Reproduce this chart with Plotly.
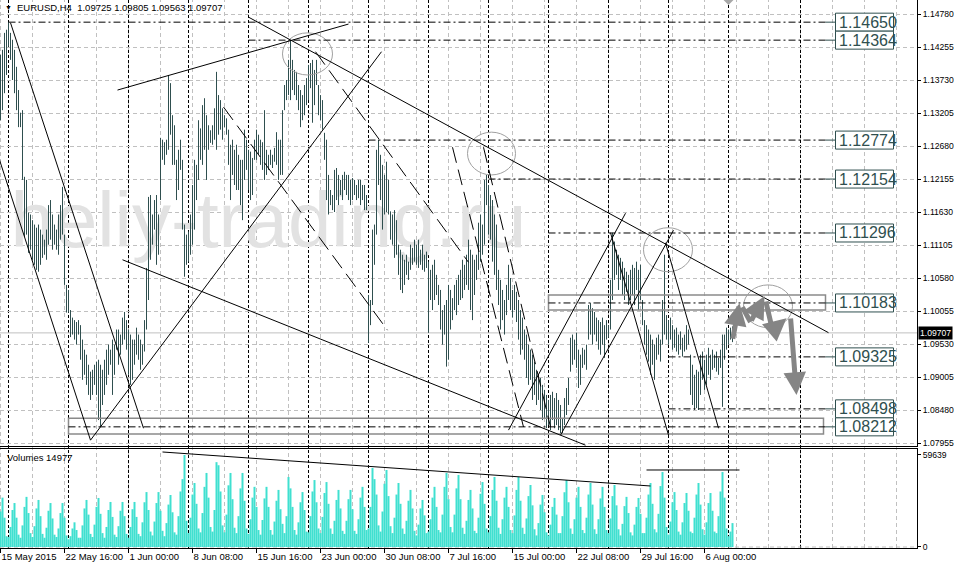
import plotly.graph_objects as go

# ---------------- data ----------------
header_text = "EURUSD,H4&nbsp; 1.09725 1.09805 1.09563 1.09707"
volume_title = "Volumes 14977"
watermark_text = "heliy-trading.ru"

high = [
    1.1413, 1.1421, 1.1448, 1.1453, 1.1465, 1.1448, 1.1437, 1.1421, 1.1394, 1.1357,
    1.1321, 1.1325, 1.1219, 1.1214, 1.1162, 1.1159, 1.1150, 1.1143, 1.1138, 1.1143,
    1.1135, 1.1127, 1.1119, 1.1135, 1.1174, 1.1182, 1.1159, 1.1143, 1.1135, 1.1159,
    1.1174, 1.1203, 1.1127, 1.1047, 1.1039, 1.1007, 1.0995, 1.0991, 1.0988, 1.0991,
    1.0983, 1.0960, 1.0944, 1.0936, 1.0920, 1.0909, 1.0912, 1.0920, 1.0925, 1.0928,
    1.0920, 1.0912, 1.0928, 1.0944, 1.0952, 1.0944, 1.0960, 1.0952, 1.0976, 1.0976,
    1.0968, 1.0995, 1.1004, 1.0991, 1.0976, 1.0968, 1.0960, 1.0960, 1.0979, 1.0968,
    1.0960, 1.0952, 1.0991, 1.1074, 1.1187, 1.1190, 1.1159, 1.1182, 1.1190, 1.1159,
    1.1281, 1.1278, 1.1274, 1.1278, 1.1381, 1.1368, 1.1317, 1.1301, 1.1246, 1.1262,
    1.1278, 1.1246, 1.1143, 1.1127, 1.1132, 1.1159, 1.1206, 1.1246, 1.1238, 1.1309,
    1.1296, 1.1333, 1.1344, 1.1317, 1.1301, 1.1293, 1.1301, 1.1328, 1.1386, 1.1349,
    1.1341, 1.1328, 1.1317, 1.1312, 1.1294, 1.1270, 1.1278, 1.1262, 1.1270, 1.1254,
    1.1246, 1.1246, 1.1294, 1.1278, 1.1262, 1.1259, 1.1249, 1.1278, 1.1294, 1.1286,
    1.1278, 1.1274, 1.1325, 1.1262, 1.1254, 1.1262, 1.1254, 1.1265, 1.1290, 1.1278,
    1.1278, 1.1325, 1.1365, 1.1373, 1.1405, 1.1436, 1.1405, 1.1389, 1.1386, 1.1365,
    1.1357, 1.1349, 1.1365, 1.1376, 1.1397, 1.1400, 1.1405, 1.1389, 1.1405, 1.1365,
    1.1349, 1.1341, 1.1289, 1.1278, 1.1222, 1.1198, 1.1190, 1.1230, 1.1233, 1.1222,
    1.1214, 1.1222, 1.1227, 1.1222, 1.1222, 1.1214, 1.1217, 1.1214, 1.1206, 1.1214,
    1.1214, 1.1206, 1.1206, 1.1190, 1.1031, 1.1023, 1.1135, 1.1143, 1.1262, 1.1278,
    1.1254, 1.1238, 1.1222, 1.1243, 1.1214, 1.1164, 1.1159, 1.1166, 1.1150, 1.1111,
    1.1103, 1.1095, 1.1087, 1.1095, 1.1084, 1.1111, 1.1106, 1.1119, 1.1111, 1.1119,
    1.1103, 1.1111, 1.1095, 1.1100, 1.1084, 1.1071, 1.1079, 1.1087, 1.1063, 1.1047,
    1.1039, 1.1007, 1.1015, 1.1023, 1.1047, 1.1039, 1.1026, 1.1047, 1.1055, 1.1063,
    1.1071, 1.1087, 1.1079, 1.1095, 1.1119, 1.1103, 1.1095, 1.1087, 1.1095, 1.1146,
    1.1159, 1.1143, 1.1214, 1.1222, 1.1206, 1.1190, 1.1182, 1.1159, 1.1143, 1.1071,
    1.1055, 1.1039, 1.1023, 1.1047, 1.1079, 1.1058, 1.1039, 1.1047, 1.1036, 1.1023,
    1.1007, 1.0995, 1.0976, 1.0968, 1.0952, 1.0944, 1.0936, 1.0925, 1.0912, 1.0904,
    1.0899, 1.0888, 1.0880, 1.0872, 1.0864, 1.0872, 1.0877, 1.0867, 1.0875, 1.0864,
    1.0856, 1.0835, 1.0867, 1.0883, 1.0899, 1.0963, 1.0968, 1.0960, 1.0971, 1.0944,
    1.0936, 1.0947, 1.0944, 1.0952, 1.1015, 1.1018, 1.1010, 1.1004, 1.0995, 1.0991,
    1.0988, 1.0995, 1.0983, 1.0991, 1.0983, 1.1055, 1.1130, 1.1116, 1.1103, 1.1095,
    1.1090, 1.1084, 1.1074, 1.1068, 1.1063, 1.1071, 1.1079, 1.1074, 1.1084, 1.1071,
    1.1079, 1.1023, 1.0991, 1.0983, 1.0976, 1.0968, 1.0960, 1.0952, 1.0963, 1.0968,
    1.0960, 1.1023, 1.1095, 1.0999, 1.0991, 1.0995, 1.0983, 1.0976, 1.0979, 1.0968,
    1.0973, 1.0963, 1.0968, 1.0983, 1.0976, 1.0936, 1.0920, 1.0904, 1.0912, 1.0909,
    1.0936, 1.0941, 1.0928, 1.0936, 1.0947, 1.0936, 1.0944, 1.0936, 1.0941, 1.0931,
    1.0944, 1.0968, 1.0968, 1.0979, 1.0976, 1.0979, 1.0981,
]

low = [
    1.1309, 1.1325, 1.1352, 1.1381, 1.1426, 1.1405, 1.1373, 1.1352, 1.1325, 1.1298,
    1.1298, 1.1214, 1.1123, 1.1127, 1.1098, 1.1103, 1.1087, 1.1079, 1.1071, 1.1068,
    1.1079, 1.1090, 1.1095, 1.1087, 1.1111, 1.1119, 1.1103, 1.1111, 1.1103, 1.1095,
    1.1119, 1.1127, 1.1047, 1.1003, 1.1003, 1.0964, 1.0968, 1.0960, 1.0952, 1.0968,
    1.0928, 1.0896, 1.0904, 1.0888, 1.0872, 1.0864, 1.0872, 1.0888, 1.0872, 1.0832,
    1.0821, 1.0856, 1.0872, 1.0888, 1.0904, 1.0920, 1.0872, 1.0904, 1.0944, 1.0920,
    1.0936, 1.0952, 1.0960, 1.0944, 1.0904, 1.0888, 1.0896, 1.0920, 1.0936, 1.0928,
    1.0912, 1.0920, 1.0941, 1.0976, 1.1023, 1.1087, 1.1111, 1.1135, 1.1079, 1.1095,
    1.1182, 1.1246, 1.1238, 1.1254, 1.1262, 1.1286, 1.1238, 1.1238, 1.1182, 1.1198,
    1.1230, 1.1135, 1.1060, 1.1079, 1.1084, 1.1095, 1.1111, 1.1135, 1.1182, 1.1214,
    1.1246, 1.1238, 1.1262, 1.1214, 1.1262, 1.1273, 1.1270, 1.1278, 1.1262, 1.1286,
    1.1294, 1.1278, 1.1298, 1.1286, 1.1238, 1.1182, 1.1222, 1.1206, 1.1198, 1.1198,
    1.1174, 1.1150, 1.1214, 1.1230, 1.1198, 1.1182, 1.1190, 1.1246, 1.1246, 1.1254,
    1.1238, 1.1230, 1.1214, 1.1222, 1.1230, 1.1238, 1.1233, 1.1243, 1.1238, 1.1214,
    1.1222, 1.1222, 1.1325, 1.1341, 1.1349, 1.1341, 1.1357, 1.1349, 1.1341, 1.1325,
    1.1298, 1.1309, 1.1317, 1.1333, 1.1341, 1.1360, 1.1305, 1.1333, 1.1365, 1.1317,
    1.1309, 1.1294, 1.1246, 1.1182, 1.1159, 1.1174, 1.1166, 1.1163, 1.1182, 1.1174,
    1.1190, 1.1182, 1.1198, 1.1190, 1.1182, 1.1174, 1.1182, 1.1190, 1.1182, 1.1185,
    1.1174, 1.1182, 1.1166, 1.1166, 1.0955, 1.0983, 1.1015, 1.1079, 1.1127, 1.1206,
    1.1182, 1.1135, 1.1159, 1.1163, 1.1159, 1.1119, 1.1111, 1.1090, 1.1095, 1.1063,
    1.1039, 1.1034, 1.1047, 1.1063, 1.1055, 1.1071, 1.1079, 1.1084, 1.1079, 1.1074,
    1.1079, 1.1071, 1.1068, 1.1074, 1.0971, 1.1023, 1.1007, 1.1023, 1.1031, 1.1015,
    1.0976, 1.0952, 1.0968, 1.0917, 1.0928, 1.0976, 1.0991, 1.1007, 1.0999, 1.1015,
    1.1023, 1.1026, 1.1039, 1.1047, 1.1039, 1.1007, 1.0991, 1.1031, 1.1055, 1.1071,
    1.1084, 1.1095, 1.1111, 1.1174, 1.1127, 1.1119, 1.1084, 1.1063, 1.1039, 1.1015,
    1.0976, 1.0991, 1.0968, 1.0999, 1.1023, 1.1007, 1.0995, 1.1007, 1.0988, 1.0960,
    1.0936, 1.0944, 1.0928, 1.0899, 1.0888, 1.0896, 1.0864, 1.0872, 1.0856, 1.0864,
    1.0848, 1.0832, 1.0835, 1.0819, 1.0824, 1.0816, 1.0832, 1.0819, 1.0824, 1.0816,
    1.0811, 1.0811, 1.0824, 1.0840, 1.0856, 1.0909, 1.0920, 1.0928, 1.0915, 1.0883,
    1.0888, 1.0915, 1.0920, 1.0912, 1.0960, 1.0968, 1.0952, 1.0968, 1.0957, 1.0944,
    1.0936, 1.0952, 1.0931, 1.0960, 1.0963, 1.0976, 1.1023, 1.1055, 1.1063, 1.1039,
    1.1055, 1.1031, 1.1023, 1.1036, 1.1015, 1.1023, 1.1031, 1.1015, 1.1039, 1.1007,
    1.1023, 1.0983, 1.0952, 1.0936, 1.0925, 1.0904, 1.0920, 1.0896, 1.0928, 1.0936,
    1.0925, 1.0952, 1.0968, 1.0960, 1.0952, 1.0960, 1.0944, 1.0947, 1.0941, 1.0936,
    1.0944, 1.0933, 1.0941, 1.0944, 1.0952, 1.0872, 1.0856, 1.0848, 1.0851, 1.0848,
    1.0872, 1.0896, 1.0880, 1.0888, 1.0904, 1.0896, 1.0912, 1.0915, 1.0909, 1.0904,
    1.0915, 1.0853, 1.0928, 1.0944, 1.0952, 1.0960, 1.0956,
]

volume = [
    23000, 32000, 19000, 7000,
    6500, 13000, 24000, 28500, 19000, 8000,
    6000, 14000, 26000, 32500, 22000, 9000,
    6500, 13500, 25000, 30500, 20000, 8500,
    6000, 12500, 23500, 28500, 18500, 8000,
    6500, 12000, 22000, 28500, 19000, 7500,
    5000, 7000, 12000, 16000, 11000, 6000,
    6000, 14000, 25000, 30500, 21000, 8500,
    6500, 14500, 26000, 31800, 21500, 9000,
    6000, 13000, 24000, 29200, 19500, 8000,
    6500, 13500, 23500, 29200, 20000, 8500,
    6000, 13000, 24500, 29200, 19500, 8500,
    7000, 16000, 29000, 35600, 24000, 10000,
    7500, 16500, 28500, 35600, 23500, 10500,
    7000, 15500, 27500, 33700, 22500, 9500,
    8000, 20000, 36000, 44000, 59639, 17000,
    9000, 19000, 34000, 41500, 28000, 12000,
    9500, 22000, 39000, 48000, 32000, 13000,
    10000, 24000, 55000, 53000, 36000, 14000,
    9500, 21000, 40000, 48000, 31000, 12500,
    9000, 20000, 38000, 48000, 30000, 12000,
    8500, 18000, 32000, 39000, 26000, 11000,
    8000, 17500, 31500, 39000, 26000, 11000,
    8000, 16500, 30000, 37000, 24500, 15000,
    9000, 20000, 45400, 38000, 26000, 11000,
    8000, 16000, 29000, 35600, 24000, 10000,
    9500, 20000, 36000, 43400, 29000, 12000,
    9000, 19500, 35000, 42100, 28000, 12000,
    8500, 17000, 30500, 37000, 25000, 10500,
    8500, 17000, 31000, 37000, 24500, 10500,
    8500, 18000, 32000, 39000, 26000, 11000,
    12000, 26000, 51200, 44000, 34000, 14000,
    10000, 23000, 41000, 49900, 33000, 13500,
    9000, 19000, 34000, 41500, 28000, 12000,
    8500, 17000, 30000, 37000, 25000, 10500,
    7500, 14500, 25000, 30500, 20500, 9000,
    10000, 18000, 32000, 39000, 26000, 11000,
    9500, 21000, 39000, 48000, 31000, 13000,
    9500, 21000, 38000, 46700, 31000, 12500,
    8500, 17000, 30500, 37000, 25000, 10500,
    9000, 19000, 34500, 42100, 28000, 12000,
    9500, 20000, 37000, 45400, 30000, 12500,
    8500, 18000, 32000, 39000, 26000, 11000,
    9000, 20500, 37000, 45400, 30000, 12500,
    8500, 18500, 33000, 40200, 27000, 11500,
    7500, 15500, 27500, 33700, 22500, 9500,
    7500, 14500, 26000, 31800, 21000, 9000,
    9000, 20000, 35500, 43400, 29000, 12000,
    8500, 18000, 32000, 39000, 26000, 11000,
    9000, 19000, 34000, 41500, 27500, 11500,
    8500, 18000, 31500, 39000, 26000, 11000,
    9000, 18500, 33000, 40200, 27000, 11500,
    7500, 15000, 26500, 32500, 22000, 9500,
    7500, 14500, 26000, 31800, 21500, 9000,
    9000, 19000, 34000, 41500, 28000, 11500,
    9500, 21500, 39500, 48600, 32000, 13000,
    8000, 16500, 29000, 35600, 24000, 10000,
    8000, 16000, 28500, 35000, 23500, 10000,
    9000, 19000, 34000, 41500, 27500, 11500,
    8000, 16000, 28500, 35000, 23500, 10000,
    9000, 20000, 36000, 48600, 32000, 12000,
    7000, 10000, 15500,
]

price_tick_values = [1.14780, 1.14255, 1.13730, 1.13205, 1.12680, 1.12155, 1.11630,
                     1.11105, 1.10580, 1.10055, 1.09530, 1.09005, 1.08480, 1.07955]
volume_tick_values = [0, 59639]
time_tick_bars = [0, 32, 64, 96, 128, 160, 192, 224, 256, 288, 320, 352]
time_tick_labels = ["15 May 2015", "22 May 16:00", "1 Jun 00:00", "8 Jun 08:00",
                    "15 Jun 16:00", "23 Jun 00:00", "30 Jun 08:00", "7 Jul 16:00",
                    "15 Jul 00:00", "22 Jul 08:00", "29 Jul 16:00", "6 Aug 00:00"]
current_price = 1.09707

level_prices = [1.14650, 1.14364, 1.12774, 1.12154, 1.11296, 1.10183, 1.09325, 1.08498, 1.08212]
level_start_bars = [4, 124, 184, 244, 274, 274, 334, 334, 34]
level_end_bar = 412.5
label_box_bars = (417.5, 446.5)

separator_bars = [4, 34, 64, 94, 124, 154, 184, 214, 244, 274, 304, 334, 364, 400]
grid_bars = [0, 16, 32, 48, 64, 80, 96, 112, 128, 144, 160, 176, 192, 208, 224, 240,
             256, 272, 288, 304, 320, 336, 352, 368, 384, 400, 416, 432, 448]

# trend lines: (bar0, price0, bar1, price1)
solid_lines = [
    (5, 1.1464, 71.5, 1.0819),
    (-5, 1.1290, 45, 1.0800),
    (45, 1.0800, 190.5, 1.1418),
    (58.5, 1.1357, 174, 1.1462),
    (61, 1.1087, 292.5, 1.0792),
    (124, 1.1473, 414, 1.0971),
    (254, 1.0816, 312.5, 1.1161),
    (280, 1.0808, 336.5, 1.1134),
    (305, 1.1130, 334, 1.0808),
    (332.5, 1.1114, 359, 1.0819),
]
dashed_lines = [
    (111.5, 1.1330, 193.5, 1.0975),
    (157.5, 1.1418, 234, 1.1083),
    (226, 1.1266, 261.5, 1.0821),
    (241.5, 1.1266, 275, 1.0821),
]
ellipses = [
    (141, 1.1448, 166, 1.1381),
    (233.5, 1.1290, 257.5, 1.1222),
    (321.5, 1.1138, 346, 1.1068),
    (371.5, 1.1047, 396, 1.0979),
]
rectangles = [
    (274, 1.1031, 412.5, 1.1007),
    (34, 1.0835, 411.5, 1.0810),
]
# projected path: (tail bar, tail price, head bar, head price, with head)
path_arrows = [
    (366, 1.0959, 369.5, 1.1018, True),
    (370.5, 1.1014, 375, 1.0988, False),
    (375, 1.0988, 382, 1.1029, True),
    (382.5, 1.1023, 386, 1.0975, False),
    (386, 1.0975, 393, 1.0994, True),
    (395, 1.0996, 398, 1.0872, True),
]
volume_lines = [
    (81, 61584, 325, 39543),
    (323, 49915, 369.5, 49915),
]
watermark_bar = 134
watermark_price = 1.1138

assert len(high) == len(low) == len(volume)
n = len(high)

# ---------------- figure ----------------
BAR_COLOR = "#2f4f4f"
FONT = "Liberation Sans"
x_range = [-0.25, 458.25]
price_range = [1.079073, 1.150027]
vol_range = [-648, 63528]

fig = go.Figure()

fig.add_trace(go.Scatter(
    x=[watermark_bar], y=[watermark_price], mode="text", text=[watermark_text],
    textposition="middle center",
    textfont=dict(family=FONT, size=78, color="#e2e2e2"),
    xaxis="x", yaxis="y", hoverinfo="skip", showlegend=False))

bx, by = [], []
for i in range(n):
    bx += [i, i, None]
    by += [low[i], high[i], None]
fig.add_trace(go.Scatter(x=bx, y=by, mode="lines", line=dict(color=BAR_COLOR, width=1),
                         xaxis="x", yaxis="y", hoverinfo="skip", showlegend=False))

fig.add_trace(go.Bar(x=list(range(n)), y=volume, width=1.0,
                     marker=dict(color="#40e0d0", line=dict(width=0)),
                     xaxis="x2", yaxis="y2", hoverinfo="skip", showlegend=False))

shapes = []
for b in grid_bars:
    shapes.append(dict(type="line", xref="x", yref="paper", x0=b, x1=b, y0=0, y1=1,
                       line=dict(color="#c0c0c0", width=1, dash="4px,3px"), layer="below"))
for b in separator_bars:
    shapes.append(dict(type="line", xref="x", yref="paper", x0=b, x1=b, y0=0, y1=1,
                       line=dict(color="#000000", width=1, dash="3px,2px"), layer="below"))
shapes.append(dict(type="line", xref="paper", yref="y", x0=0, x1=1, y0=current_price, y1=current_price,
                   line=dict(color="#c0c0c0", width=1), layer="below"))
shapes.append(dict(type="line", xref="paper", yref="y2", x0=0, x1=1, y0=0, y1=0,
                   line=dict(color="#c0c0c0", width=1, dash="4px,3px"), layer="below"))

for (x0, y0, x1, y1) in rectangles:
    shapes.append(dict(type="rect", xref="x", yref="y", x0=x0, x1=x1, y0=y0, y1=y1,
                       line=dict(color="#8a8a8a", width=1.5)))
for (x0, y0, x1, y1) in ellipses:
    shapes.append(dict(type="circle", xref="x", yref="y", x0=x0, x1=x1, y0=y0, y1=y1,
                       line=dict(color="#a0a0a0", width=1)))
for (x0, y0, x1, y1) in solid_lines:
    shapes.append(dict(type="line", xref="x", yref="y", x0=x0, x1=x1, y0=y0, y1=y1,
                       line=dict(color="#000000", width=1)))
for (x0, y0, x1, y1) in dashed_lines:
    shapes.append(dict(type="line", xref="x", yref="y", x0=x0, x1=x1, y0=y0, y1=y1,
                       line=dict(color="#000000", width=1, dash="16px,7px")))
for (x0, y0, x1, y1) in volume_lines:
    shapes.append(dict(type="line", xref="x2", yref="y2", x0=x0, x1=x1, y0=y0, y1=y1,
                       line=dict(color="#000000", width=1)))

# small chart-shift marker at the top edge
shapes.append(dict(type="path", xref="x", yref="paper", xsizemode="pixel", ysizemode="pixel",
                   xanchor=364, yanchor=1, path="M -5,0 L 5,0 L 0,-5 Z",
                   fillcolor="#a8a8a8", line=dict(width=0)))

annotations = []
for p, sb in zip(level_prices, level_start_bars):
    shapes.append(dict(type="line", xref="x", yref="y", x0=sb, x1=level_end_bar, y0=p, y1=p,
                       line=dict(color="#000000", width=1, dash="7px,3px,2px,3px")))
    shapes.append(dict(type="line", xref="x", yref="y", x0=level_end_bar, x1=label_box_bars[0], y0=p, y1=p,
                       line=dict(color=BAR_COLOR, width=1)))
    shapes.append(dict(type="rect", xref="x", yref="y", ysizemode="pixel", yanchor=p,
                       x0=label_box_bars[0], x1=label_box_bars[1], y0=-9, y1=9,
                       fillcolor="#ffffff", line=dict(color=BAR_COLOR, width=1)))
    annotations.append(dict(xref="x", yref="y", x=label_box_bars[0] + 0.6, y=p,
                            xanchor="left", yanchor="middle", showarrow=False,
                            text=f"{p:.5f}", font=dict(family=FONT, size=16, color=BAR_COLOR)))

for (tx, ty, hx, hy, head) in path_arrows:
    annotations.append(dict(xref="x", yref="y", axref="x", ayref="y", x=hx, y=hy, ax=tx, ay=ty,
                            text="", showarrow=True, arrowhead=2 if head else 0,
                            arrowsize=0.9, arrowwidth=5, arrowcolor="#858585", standoff=0))

annotations.append(dict(xref="paper", yref="paper", x=0.003, y=1 - 7 / 548, xanchor="left",
                        yanchor="middle", showarrow=False, text="▼",
                        font=dict(family=FONT, size=7, color="#000000")))
annotations.append(dict(xref="paper", yref="paper", x=15 / 917, y=1 - 7 / 548, xanchor="left",
                        yanchor="middle", showarrow=False, text=header_text,
                        font=dict(family=FONT, size=9.5, color="#000000")))
annotations.append(dict(xref="paper", yref="paper", x=5 / 917, y=1 - 457 / 548, xanchor="left",
                        yanchor="middle", showarrow=False, text=volume_title,
                        font=dict(family=FONT, size=9.5, color="#000000")))
annotations.append(dict(xref="paper", yref="y", x=1, y=current_price, xanchor="left", xshift=1,
                        yanchor="middle", showarrow=False, text=f"{current_price:.5f}",
                        bgcolor="#000000", borderpad=1,
                        font=dict(family=FONT, size=8.6, color="#ffffff")))

tickfont = dict(family=FONT, size=9.5, color="#000000")
ytickfont = dict(family=FONT, size=8.6, color="#000000")
fig.update_layout(
    width=954, height=567,
    margin=dict(l=0, r=37, t=0, b=19, autoexpand=False),
    paper_bgcolor="#ffffff", plot_bgcolor="#ffffff",
    showlegend=False,
    xaxis=dict(domain=[0, 1], range=x_range, anchor="y", showgrid=False, zeroline=False,
               showticklabels=False, ticks="", showline=True, linecolor="#000000", linewidth=1),
    yaxis=dict(domain=[0.18613, 1], range=price_range, anchor="x", side="right",
               tickmode="array", tickvals=price_tick_values, tickformat=".5f",
               ticks="outside", ticklen=3, tickcolor="#000000", tickfont=ytickfont,
               showline=True, linecolor="#000000", linewidth=1, zeroline=False,
               showgrid=True, gridcolor="#c0c0c0", griddash="4px,3px", automargin=False),
    xaxis2=dict(domain=[0, 1], range=x_range, anchor="y2", tickmode="array",
                tickvals=time_tick_bars, ticktext=time_tick_labels, tickangle=0,
                ticklabelposition="outside right", ticks="outside", ticklen=4,
                tickcolor="#000000", tickfont=tickfont, showgrid=False, zeroline=False,
                showline=True, mirror=True, linecolor="#000000", linewidth=1, automargin=False),
    yaxis2=dict(domain=[0, 0.18066], range=vol_range, anchor="x2", side="right",
                tickmode="array", tickvals=volume_tick_values,
                ticktext=[str(v) for v in volume_tick_values],
                ticks="outside", ticklen=3, tickcolor="#000000", tickfont=ytickfont,
                showline=True, linecolor="#000000", linewidth=1, zeroline=False,
                showgrid=False, automargin=False),
    shapes=shapes,
    annotations=annotations,
)

fig.write_html("out.html", config={"displayModeBar": False},
               post_script="document.body.style.margin='0';document.body.style.overflow='hidden';")
